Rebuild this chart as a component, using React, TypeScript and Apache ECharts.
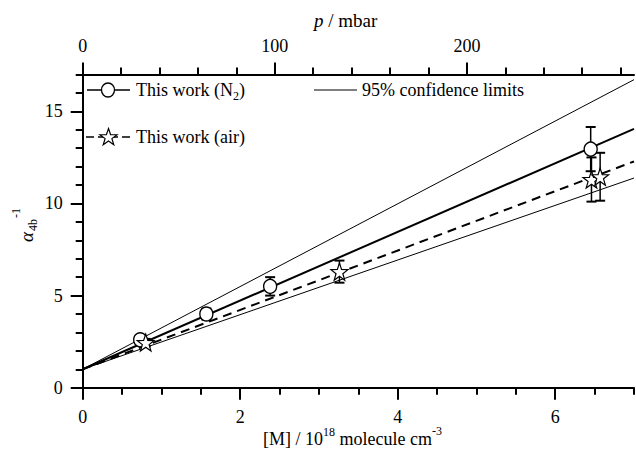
import React, { useEffect, useRef } from 'react';
import * as echarts from 'echarts';

// ---- axis ticks ----
const xMajorTicks = [0, 2, 4, 6];
const xMinorTicks = [0, 0.5, 1, 1.5, 2, 2.5, 3, 3.5, 4, 4.5, 5, 5.5, 6, 6.5, 7];
const pMajorTicks = [0, 100, 200];
const pMinorTicks = [0, 20, 40, 60, 80, 100, 120, 140, 160, 180, 200, 220, 240, 260, 280];
const yMajorTicks = [0, 5, 10, 15];
const yMinorTicks = [0, 1, 2, 3, 4, 5, 6, 7, 8, 9, 10, 11, 12, 13, 14, 15, 16, 17];

// ---- data: This work (N2) ----
const n2X = [0.73, 1.57, 2.38, 6.45];
const n2Y = [2.6, 4.0, 5.5, 12.95];
const n2Err = [0.15, 0.3, 0.5, 1.2];

// ---- data: This work (air) ----
const airX = [0.8, 3.26, 6.46, 6.57];
const airY = [2.45, 6.3, 11.3, 11.45];
const airErr = [0.2, 0.6, 1.2, 1.3];

// ---- fitted lines (end points) ----
const fitX = [0, 7];
const n2FitY = [1.0, 14.05];
const airFitY = [1.0, 12.28];
const upperCLY = [1.0, 16.72];
const lowerCLY = [1.0, 11.38];

const FONT = '"Liberation Serif", "Times New Roman", serif';
const STAR_PATH =
  'path://M0,-10L2.35,-3.24L9.51,-3.09L3.8,1.24L5.88,8.09L0,4L-5.88,8.09L-3.8,1.24L-9.51,-3.09L-2.35,-3.24Z';

let measureCtx: CanvasRenderingContext2D | null = null;
function measure(text: string, font: string): number {
  if (!measureCtx) measureCtx = document.createElement('canvas').getContext('2d');
  if (!measureCtx) return text.length * 8;
  measureCtx.font = font;
  return measureCtx.measureText(text).width;
}

type Piece = { t: string; size: number; dy: number; italic?: boolean };
function seq(pieces: Piece[], x: number, y: number) {
  const out: any[] = [];
  let cx = x;
  pieces.forEach((p) => {
    const font = `${p.italic ? 'italic ' : ''}${p.size}px ${FONT}`;
    out.push({
      type: 'text',
      x: cx,
      y: y + p.dy,
      silent: true,
      style: {
        text: p.t,
        font,
        fill: '#000',
        textAlign: 'left',
        textVerticalAlign: 'middle',
      },
    });
    cx += measure(p.t, font);
  });
  return out;
}

function starPoints(cx: number, cy: number, r: number): number[][] {
  const pts: number[][] = [];
  for (let i = 0; i < 10; i++) {
    const a = -Math.PI / 2 + (i * Math.PI) / 5;
    const rr = i % 2 === 0 ? r : r * 0.4;
    pts.push([cx + rr * Math.cos(a), cy + rr * Math.sin(a)]);
  }
  return pts;
}

function errorBars(xs: number[], ys: number[], es: number[]) {
  return {
    type: 'custom',
    xAxisIndex: 0,
    yAxisIndex: 0,
    silent: true,
    z: 3,
    data: xs.map((x, i) => [x, ys[i] - es[i], ys[i] + es[i]]),
    encode: { x: 0, y: [1, 2] },
    renderItem: (_params: any, api: any) => {
      const lo = api.coord([api.value(0), api.value(1)]);
      const hi = api.coord([api.value(0), api.value(2)]);
      const hw = 5;
      return {
        type: 'group',
        children: [
          { type: 'line', shape: { x1: lo[0], y1: lo[1], x2: hi[0], y2: hi[1] }, style: { stroke: '#000', lineWidth: 1.5 } },
          { type: 'line', shape: { x1: lo[0] - hw, y1: lo[1], x2: lo[0] + hw, y2: lo[1] }, style: { stroke: '#000', lineWidth: 2 } },
          { type: 'line', shape: { x1: hi[0] - hw, y1: hi[1], x2: hi[0] + hw, y2: hi[1] }, style: { stroke: '#000', lineWidth: 2 } },
        ],
      };
    },
  };
}

function lineSeries(ys: number[], width: number, type: any) {
  return {
    type: 'line',
    xAxisIndex: 0,
    yAxisIndex: 0,
    data: fitX.map((x, i) => [x, ys[i]]),
    symbol: 'none',
    silent: true,
    z: 2,
    lineStyle: { color: '#000', width, type },
  };
}

const axisBase = (min: number, max: number) => ({
  type: 'value',
  min,
  max,
  splitLine: { show: false },
  axisLine: { onZero: false, show: true, lineStyle: { color: '#000', width: 2 } },
});

export default function App() {
  const ref = useRef<HTMLDivElement>(null);
  useEffect(() => {
    if (!ref.current) return;
    const chart = echarts.init(ref.current, undefined, { renderer: 'svg' });

    const labelStyle = { color: '#000', fontSize: 18, fontFamily: FONT, margin: 20 };

    const xAxis: any[] = [
      {
        ...axisBase(0, 7),
        position: 'bottom',
        interval: 2,
        axisTick: { show: true, length: 12, lineStyle: { width: 2, color: '#000' }, customValues: xMajorTicks },
        axisLabel: { ...labelStyle, customValues: xMajorTicks },
      },
      {
        ...axisBase(0, 7),
        position: 'bottom',
        interval: 0.5,
        axisLine: { onZero: false, show: false },
        axisTick: { show: true, length: 7, lineStyle: { width: 2, color: '#000' }, customValues: xMinorTicks },
        axisLabel: { show: false },
      },
      {
        ...axisBase(0, 287),
        position: 'top',
        interval: 100,
        axisTick: { show: true, length: 12, lineStyle: { width: 2, color: '#000' }, customValues: pMajorTicks },
        axisLabel: { ...labelStyle, customValues: pMajorTicks },
      },
      {
        ...axisBase(0, 287),
        position: 'top',
        interval: 20,
        axisLine: { onZero: false, show: false },
        axisTick: { show: true, length: 7, lineStyle: { width: 2, color: '#000' }, customValues: pMinorTicks },
        axisLabel: { show: false },
      },
    ];

    const yAxis: any[] = [
      {
        ...axisBase(0, 17),
        position: 'left',
        interval: 5,
        axisTick: { show: true, length: 12, lineStyle: { width: 2, color: '#000' }, customValues: yMajorTicks },
        axisLabel: { ...labelStyle, customValues: yMajorTicks },
      },
      {
        ...axisBase(0, 17),
        position: 'left',
        interval: 1,
        axisLine: { onZero: false, show: false },
        axisTick: { show: true, length: 7, lineStyle: { width: 2, color: '#000' }, customValues: yMinorTicks },
        axisLabel: { show: false },
      },
    ];

    const graphic: any[] = [
      // top axis title
      ...seq(
        [
          { t: 'p', size: 19, dy: 0, italic: true },
          { t: ' / mbar', size: 19, dy: 0 },
        ],
        314,
        20
      ),
      // bottom axis title
      ...seq(
        [
          { t: '[M] / 10', size: 18, dy: 0 },
          { t: '18', size: 12, dy: -7 },
          { t: ' molecule cm', size: 18, dy: 0 },
          { t: '-3', size: 12, dy: -8 },
        ],
        263,
        439
      ),
      // y axis title (rotated)
      {
        type: 'group',
        x: 26,
        y: 237,
        rotation: Math.PI / 2,
        silent: true,
        children: [
          { type: 'text', x: 0, y: 0, style: { text: 'α', font: `italic 19px ${FONT}`, fill: '#000', textAlign: 'center', textVerticalAlign: 'middle' } },
          { type: 'text', x: 6, y: 7, style: { text: '4b', font: `12px ${FONT}`, fill: '#000', textAlign: 'left', textVerticalAlign: 'middle' } },
          { type: 'text', x: 19, y: -10, style: { text: '-1', font: `12px ${FONT}`, fill: '#000', textAlign: 'left', textVerticalAlign: 'middle' } },
        ],
      },
      // legend row 1: N2
      { type: 'line', silent: true, shape: { x1: 87, y1: 90, x2: 130, y2: 90 }, style: { stroke: '#000', lineWidth: 1.5 } },
      { type: 'ellipse', silent: true, shape: { cx: 108, cy: 90, rx: 6.5, ry: 7 }, style: { fill: '#fff', stroke: '#000', lineWidth: 1.3 } },
      ...seq(
        [
          { t: 'This work (N', size: 18, dy: 0 },
          { t: '2', size: 12, dy: 6 },
          { t: ')', size: 18, dy: 0 },
        ],
        136,
        90
      ),
      // legend row 1: 95% confidence limits
      { type: 'line', silent: true, shape: { x1: 314, y1: 90, x2: 357, y2: 90 }, style: { stroke: '#000', lineWidth: 1 } },
      ...seq([{ t: '95% confidence limits', size: 18, dy: 0 }], 362, 90),
      // legend row 2: air
      { type: 'line', silent: true, shape: { x1: 86, y1: 137, x2: 130, y2: 137 }, style: { stroke: '#000', lineWidth: 1.5, lineDash: [8, 4] } },
      { type: 'polygon', silent: true, shape: { points: starPoints(108.5, 137.5, 9) }, style: { fill: '#fff', stroke: '#000', lineWidth: 1.2 } },
      ...seq([{ t: 'This work (air)', size: 18, dy: 0 }], 136, 137),
    ];

    const option: any = {
      animation: false,
      backgroundColor: '#fff',
      textStyle: { fontFamily: FONT },
      grid: { left: 82.7, right: 2, top: 74.5, bottom: 61.3, containLabel: false },
      xAxis,
      yAxis,
      graphic,
      series: [
        lineSeries(upperCLY, 1, 'solid'),
        lineSeries(lowerCLY, 1, 'solid'),
        lineSeries(n2FitY, 2, 'solid'),
        lineSeries(airFitY, 2, [9, 6]),
        errorBars(n2X, n2Y, n2Err),
        errorBars(airX, airY, airErr),
        {
          type: 'scatter',
          name: 'This work (N2)',
          xAxisIndex: 0,
          yAxisIndex: 0,
          z: 4,
          symbol: 'circle',
          symbolSize: [13, 14],
          itemStyle: { color: '#fff', opacity: 1, borderColor: '#000', borderWidth: 1.4 },
          data: n2X.map((x, i) => [x, n2Y[i]]),
        },
        {
          type: 'scatter',
          name: 'This work (air)',
          xAxisIndex: 0,
          yAxisIndex: 0,
          z: 4,
          symbol: STAR_PATH,
          symbolSize: 17,
          itemStyle: { color: '#fff', opacity: 1, borderColor: '#000', borderWidth: 1.2 },
          data: airX.map((x, i) => [x, airY[i]]),
        },
      ],
    };

    chart.setOption(option);
    return () => chart.dispose();
  }, []);

  return (
    <div
      ref={ref}
      style={{ position: 'absolute', left: 0, top: 0, width: 636, height: 449, background: '#fff' }}
    />
  );
}
